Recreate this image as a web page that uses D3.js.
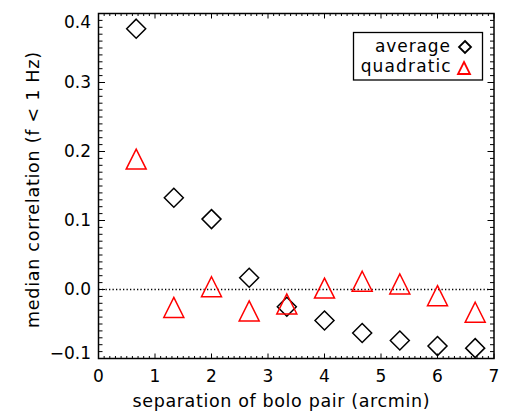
<!DOCTYPE html>
<html>
<head>
<meta charset="utf-8">
<script src="https://cdn.jsdelivr.net/npm/d3@7"></script>
<style>
  html, body { margin: 0; padding: 0; background: #fff; }
  svg { display: block; }
  text { font-family: "DejaVu Sans", sans-serif; fill: #000; }
</style>
</head>
<body>
<svg id="chart" width="505" height="413"></svg>
<script>
// Pair separations (arcmin)
const separation = [0.667, 1.333, 2.0, 2.667, 3.333, 4.0, 4.667, 5.333, 6.0, 6.667];
// Median correlation below 1 Hz, two template-removal methods
const averageCorr   = [0.378, 0.133, 0.102, 0.017, -0.025, -0.045, -0.063, -0.074, -0.082, -0.085];
const quadraticCorr = [0.189, -0.026, 0.004, -0.031, -0.021, 0.002, 0.012, 0.008, -0.009, -0.033];
const xTicks = [0, 1, 2, 3, 4, 5, 6, 7];
const yTicks = [-0.1, 0.0, 0.1, 0.2, 0.3, 0.4];
const legendLabels = ["average", "quadratic"];

(function draw() {
  const svg = d3.select("#chart");
  const pL = 98.5, pR = 494, pT = 13.5, pB = 358.5;

  const x = d3.scaleLinear().domain([0, 7]).range([pL, pR]);
  const y = d3.scaleLinear().domain([-0.1, 0.4]).range([pB, pT]);

  const axisColor = "#000";
  const g = svg.append("g");

  // Frame
  g.append("rect")
    .attr("x", pL).attr("y", pT)
    .attr("width", pR - pL).attr("height", pB - pT)
    .attr("fill", "none").attr("stroke", axisColor).attr("stroke-width", 1.5);

  // Inward-pointing ticks on all four sides
  const majLen = 5, minLen = 2.5;
  const xMinor = d3.range(0, 70.5).map(i => i / 10);
  const yMinor = d3.range(-10, 40.5).map(i => i / 100);
  const isMajorX = v => Math.abs(v - Math.round(v)) < 1e-6;
  const isMajorY = v => Math.abs(v * 10 - Math.round(v * 10)) < 1e-6;

  xMinor.forEach(v => {
    const L = isMajorX(v) ? majLen : minLen;
    g.append("line").attr("x1", x(v)).attr("x2", x(v)).attr("y1", pB).attr("y2", pB - L)
      .attr("stroke", axisColor).attr("stroke-width", 1);
    g.append("line").attr("x1", x(v)).attr("x2", x(v)).attr("y1", pT).attr("y2", pT + L)
      .attr("stroke", axisColor).attr("stroke-width", 1);
  });
  yMinor.forEach(v => {
    const L = isMajorY(v) ? majLen * 1.3 : minLen * 1.6;
    g.append("line").attr("y1", y(v)).attr("y2", y(v)).attr("x1", pL).attr("x2", pL + L)
      .attr("stroke", axisColor).attr("stroke-width", 1);
    g.append("line").attr("y1", y(v)).attr("y2", y(v)).attr("x1", pR).attr("x2", pR - L)
      .attr("stroke", axisColor).attr("stroke-width", 1);
  });

  // Tick labels
  g.selectAll(".xl").data(xTicks).enter().append("text")
    .attr("x", d => x(d)).attr("y", 382)
    .attr("text-anchor", "middle").attr("font-size", 17)
    .text(d => d3.format("d")(d));

  const fmtY = d => (d < 0 ? "\u2212" : "") + Math.abs(d).toFixed(1);
  g.selectAll(".yl").data(yTicks).enter().append("text")
    .attr("x", 91)
    .attr("y", d => y(d) + (d >= 0.4 ? 14 : d <= -0.1 ? 0.5 : 5.8))
    .attr("text-anchor", "end").attr("font-size", 17)
    .text(fmtY);

  // Axis titles
  g.append("text").attr("x", 132.5).attr("y", 406.5)
    .attr("font-size", 17.5).attr("textLength", 297).attr("lengthAdjust", "spacing")
    .text("separation of bolo pair (arcmin)");
  g.append("text")
    .attr("transform", "translate(38.5,328) rotate(-90)")
    .attr("font-size", 17.5).attr("textLength", 276).attr("lengthAdjust", "spacing")
    .text("median correlation (f < 1 Hz)");

  // Zero line
  g.append("line").attr("x1", pL).attr("x2", pR).attr("y1", y(0)).attr("y2", y(0))
    .attr("stroke", "#000").attr("stroke-width", 1.3).attr("stroke-dasharray", "1.3,2.2");

  // Marker shapes
  const diamond = (r) => `M0,${-r}L${r},0L0,${r}L${-r},0Z`;
  const triangle = (r) => `M0,${-r}L${r},${r}L${-r},${r}Z`;

  g.selectAll(".avg").data(separation).enter().append("path")
    .attr("transform", (d, i) => `translate(${x(d)},${y(averageCorr[i])})`)
    .attr("d", diamond(9.5))
    .attr("fill", "none").attr("stroke", "#000").attr("stroke-width", 1.5);

  g.selectAll(".quad").data(separation).enter().append("path")
    .attr("transform", (d, i) => `translate(${x(d)},${y(quadraticCorr[i])})`)
    .attr("d", triangle(10))
    .attr("fill", "none").attr("stroke", "#f00").attr("stroke-width", 1.5);

  // Legend
  const lg = g.append("g");
  lg.append("rect").attr("x", 353.5).attr("y", 32.5).attr("width", 129).attr("height", 47.5)
    .attr("fill", "#fff").attr("stroke", "#000").attr("stroke-width", 1.3);
  lg.append("text").attr("x", 375).attr("y", 51.7).attr("font-size", 17)
    .attr("textLength", 75).attr("lengthAdjust", "spacing")
    .text(legendLabels[0]);
  lg.append("text").attr("x", 360.7).attr("y", 71.7).attr("font-size", 17)
    .attr("textLength", 90).attr("lengthAdjust", "spacing")
    .text(legendLabels[1]);
  lg.append("path").attr("transform", "translate(465,47)").attr("d", diamond(6))
    .attr("fill", "none").attr("stroke", "#000").attr("stroke-width", 1.8);
  lg.append("path").attr("transform", "translate(464,68)").attr("d", triangle(6))
    .attr("fill", "none").attr("stroke", "#f00").attr("stroke-width", 1.8);
})();
</script>
</body>
</html>
